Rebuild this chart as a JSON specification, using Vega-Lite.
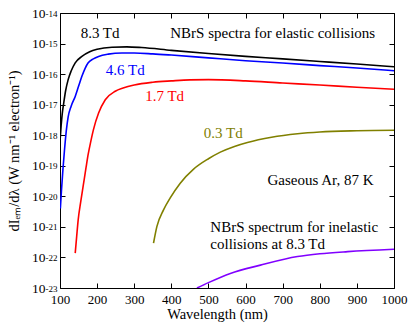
{
  "$schema": "https://vega.github.io/schema/vega-lite/v6.json",
  "autosize": {"type": "none"},
  "padding": {"left": 60, "top": 13, "right": 17, "bottom": 41},
  "width": 334,
  "height": 275,
  "background": "white",
  "config": {
    "view": {"stroke": "black", "strokeWidth": 1},
    "font": "Liberation Serif",
    "text": {"font": "Liberation Serif"},
    "axis": {"grid": false, "domain": false, "tickColor": "black", "tickWidth": 1, "labelColor": "black", "titleColor": "black", "labelFont": "Liberation Serif", "titleFont": "Liberation Serif", "titleFontWeight": "normal", "labelOverlap": false, "labelFlush": false}
  },
  "datasets": {
    "curves": [
      {"series": "8.3 Td", "wl": 100, "v": 6.3e-19},
      {"series": "8.3 Td", "wl": 103, "v": 2.0e-18},
      {"series": "8.3 Td", "wl": 106, "v": 5.0e-18},
      {"series": "8.3 Td", "wl": 110, "v": 1.12e-17},
      {"series": "8.3 Td", "wl": 115, "v": 2.8e-17},
      {"series": "8.3 Td", "wl": 122, "v": 6.6e-17},
      {"series": "8.3 Td", "wl": 130, "v": 1.26e-16},
      {"series": "8.3 Td", "wl": 141, "v": 2.34e-16},
      {"series": "8.3 Td", "wl": 159, "v": 3.8e-16},
      {"series": "8.3 Td", "wl": 180, "v": 5.4e-16},
      {"series": "8.3 Td", "wl": 200, "v": 6.5e-16},
      {"series": "8.3 Td", "wl": 240, "v": 7.6e-16},
      {"series": "8.3 Td", "wl": 280, "v": 7.8e-16},
      {"series": "8.3 Td", "wl": 320, "v": 7.4e-16},
      {"series": "8.3 Td", "wl": 400, "v": 6.0e-16},
      {"series": "8.3 Td", "wl": 500, "v": 4.7e-16},
      {"series": "8.3 Td", "wl": 600, "v": 3.8e-16},
      {"series": "8.3 Td", "wl": 700, "v": 3.16e-16},
      {"series": "8.3 Td", "wl": 800, "v": 2.6e-16},
      {"series": "8.3 Td", "wl": 900, "v": 2.14e-16},
      {"series": "8.3 Td", "wl": 1000, "v": 1.74e-16},
      {"series": "4.6 Td", "wl": 101, "v": 4.0e-21},
      {"series": "4.6 Td", "wl": 104, "v": 1.58e-20},
      {"series": "4.6 Td", "wl": 108, "v": 7.9e-20},
      {"series": "4.6 Td", "wl": 112, "v": 3.16e-19},
      {"series": "4.6 Td", "wl": 117, "v": 1.41e-18},
      {"series": "4.6 Td", "wl": 122, "v": 4.0e-18},
      {"series": "4.6 Td", "wl": 130, "v": 8.9e-18},
      {"series": "4.6 Td", "wl": 141, "v": 1.86e-17},
      {"series": "4.6 Td", "wl": 150, "v": 4.0e-17},
      {"series": "4.6 Td", "wl": 159, "v": 8.5e-17},
      {"series": "4.6 Td", "wl": 168, "v": 1.58e-16},
      {"series": "4.6 Td", "wl": 176, "v": 2.34e-16},
      {"series": "4.6 Td", "wl": 190, "v": 3.16e-16},
      {"series": "4.6 Td", "wl": 204, "v": 3.8e-16},
      {"series": "4.6 Td", "wl": 230, "v": 4.5e-16},
      {"series": "4.6 Td", "wl": 267, "v": 4.9e-16},
      {"series": "4.6 Td", "wl": 300, "v": 4.9e-16},
      {"series": "4.6 Td", "wl": 350, "v": 4.6e-16},
      {"series": "4.6 Td", "wl": 400, "v": 4.2e-16},
      {"series": "4.6 Td", "wl": 500, "v": 3.4e-16},
      {"series": "4.6 Td", "wl": 600, "v": 2.75e-16},
      {"series": "4.6 Td", "wl": 700, "v": 2.3e-16},
      {"series": "4.6 Td", "wl": 800, "v": 1.9e-16},
      {"series": "4.6 Td", "wl": 900, "v": 1.58e-16},
      {"series": "4.6 Td", "wl": 1000, "v": 1.29e-16},
      {"series": "1.7 Td", "wl": 141, "v": 1.38e-22},
      {"series": "1.7 Td", "wl": 145, "v": 5.0e-22},
      {"series": "1.7 Td", "wl": 149, "v": 1.7e-21},
      {"series": "1.7 Td", "wl": 156, "v": 6.8e-21},
      {"series": "1.7 Td", "wl": 163, "v": 2.4e-20},
      {"series": "1.7 Td", "wl": 170, "v": 8.5e-20},
      {"series": "1.7 Td", "wl": 176, "v": 2.4e-19},
      {"series": "1.7 Td", "wl": 183, "v": 6.3e-19},
      {"series": "1.7 Td", "wl": 190, "v": 1.5e-18},
      {"series": "1.7 Td", "wl": 204, "v": 5.3e-18},
      {"series": "1.7 Td", "wl": 222, "v": 1.45e-17},
      {"series": "1.7 Td", "wl": 249, "v": 2.75e-17},
      {"series": "1.7 Td", "wl": 270, "v": 3.5e-17},
      {"series": "1.7 Td", "wl": 300, "v": 4.4e-17},
      {"series": "1.7 Td", "wl": 350, "v": 5.4e-17},
      {"series": "1.7 Td", "wl": 400, "v": 6.0e-17},
      {"series": "1.7 Td", "wl": 450, "v": 6.5e-17},
      {"series": "1.7 Td", "wl": 500, "v": 6.6e-17},
      {"series": "1.7 Td", "wl": 600, "v": 6.0e-17},
      {"series": "1.7 Td", "wl": 700, "v": 5.1e-17},
      {"series": "1.7 Td", "wl": 800, "v": 4.4e-17},
      {"series": "1.7 Td", "wl": 900, "v": 3.7e-17},
      {"series": "1.7 Td", "wl": 1000, "v": 3.2e-17},
      {"series": "0.3 Td", "wl": 352, "v": 2.95e-22},
      {"series": "0.3 Td", "wl": 361, "v": 1.02e-21},
      {"series": "0.3 Td", "wl": 379, "v": 3.6e-21},
      {"series": "0.3 Td", "wl": 397, "v": 8.9e-21},
      {"series": "0.3 Td", "wl": 424, "v": 2.7e-20},
      {"series": "0.3 Td", "wl": 460, "v": 7.8e-20},
      {"series": "0.3 Td", "wl": 500, "v": 1.7e-19},
      {"series": "0.3 Td", "wl": 532, "v": 2.8e-19},
      {"series": "0.3 Td", "wl": 570, "v": 4.3e-19},
      {"series": "0.3 Td", "wl": 605, "v": 5.8e-19},
      {"series": "0.3 Td", "wl": 670, "v": 8.6e-19},
      {"series": "0.3 Td", "wl": 740, "v": 1.12e-18},
      {"series": "0.3 Td", "wl": 800, "v": 1.28e-18},
      {"series": "0.3 Td", "wl": 900, "v": 1.4e-18},
      {"series": "0.3 Td", "wl": 1000, "v": 1.45e-18},
      {"series": "inelastic", "wl": 469, "v": 1.0e-23},
      {"series": "inelastic", "wl": 500, "v": 1.5e-23},
      {"series": "inelastic", "wl": 559, "v": 3.0e-23},
      {"series": "inelastic", "wl": 640, "v": 5.6e-23},
      {"series": "inelastic", "wl": 740, "v": 1.07e-22},
      {"series": "inelastic", "wl": 800, "v": 1.32e-22},
      {"series": "inelastic", "wl": 875, "v": 1.55e-22},
      {"series": "inelastic", "wl": 1000, "v": 1.86e-22}
    ],
    "tdlabels": [
      {"series": "8.3 Td", "label": "8.3 Td", "wl": 208, "v": 2.3e-15},
      {"series": "4.6 Td", "label": "4.6 Td", "wl": 276, "v": 1.35e-16},
      {"series": "1.7 Td", "label": "1.7 Td", "wl": 382, "v": 1.87e-17},
      {"series": "0.3 Td", "label": "0.3 Td", "wl": 540, "v": 1.2e-18}
    ],
    "notes": [
      {"label": "NBrS spectra for elastic collisions", "wl": 397, "v": 2.2e-15},
      {"label": "Gaseous Ar, 87 K", "wl": 659, "v": 3.3e-20},
      {"label": "NBrS spectrum for inelastic", "wl": 505, "v": 1.0e-21},
      {"label": "collisions at 8.3 Td", "wl": 505, "v": 2.75e-22}
    ]
  },
  "resolve": {"axis": {"x": "independent", "y": "independent"}},
  "layer": [
    {
      "data": {"name": "curves"},
      "mark": {"type": "line", "strokeWidth": 1.6, "interpolate": "monotone", "clip": true},
      "encoding": {
        "x": {"field": "wl", "type": "quantitative",
          "scale": {"domain": [100, 1000], "nice": false, "zero": false},
          "axis": {"orient": "bottom", "values": [100, 200, 300, 400, 500, 600, 700, 800, 900, 1000], "format": "d", "offset": -5, "tickSize": 5, "labelPadding": 5, "labelFontSize": 13, "title": "Wavelength (nm)", "titleFontSize": 14.5, "titlePadding": 1, "titleX": 157}},
        "y": {"field": "v", "type": "quantitative",
          "scale": {"type": "log", "domain": [1e-23, 1e-14], "nice": false},
          "axis": {"orient": "left", "values": [1e-23, 1e-22, 1e-21, 1e-20, 1e-19, 1e-18, 1e-17, 1e-16, 1e-15, 1e-14], "labelExpr": "'10'", "offset": -5, "tickSize": 5, "labelPadding": 15, "labelFontSize": 13.5, "labelDy": 0, "title": "dIₑₘ/dλ (W nm⁻¹ electron⁻¹)", "titleFontSize": 14.5, "titlePadding": 10}},
        "color": {"field": "series", "type": "nominal",
          "scale": {"domain": ["8.3 Td", "4.6 Td", "1.7 Td", "0.3 Td", "inelastic"], "range": ["#000000", "#0000ff", "#ff0000", "#808000", "#8000ff"]},
          "legend": null},
        "detail": {"field": "series"}
      }
    },
    {
      "data": {"name": "tdlabels"},
      "mark": {"type": "text", "fontSize": 15, "align": "center", "baseline": "middle", "font": "Liberation Serif"},
      "encoding": {
        "x": {"field": "wl", "type": "quantitative",
          "axis": {"orient": "top", "values": [100, 200, 300, 400, 500, 600, 700, 800, 900, 1000], "offset": -5, "tickSize": 5, "labels": false, "title": null}},
        "y": {"field": "v", "type": "quantitative",
          "axis": {"orient": "left", "values": [1e-23, 1e-22, 1e-21, 1e-20, 1e-19, 1e-18, 1e-17, 1e-16, 1e-15, 1e-14], "labelExpr": "'' + round(log(datum.value) / LN10)", "ticks": false, "tickSize": 0, "labelPadding": 3, "labelFontSize": 9, "labelDy": -6, "title": null}},
        "text": {"field": "label"},
        "color": {"field": "series", "type": "nominal", "legend": null}
      }
    },
    {
      "data": {"name": "notes"},
      "mark": {"type": "text", "fontSize": 15, "align": "left", "baseline": "middle", "color": "black", "font": "Liberation Serif"},
      "encoding": {
        "x": {"field": "wl", "type": "quantitative", "axis": null},
        "y": {"field": "v", "type": "quantitative",
          "axis": {"orient": "right", "values": [1e-23, 1e-22, 1e-21, 1e-20, 1e-19, 1e-18, 1e-17, 1e-16, 1e-15, 1e-14], "offset": -5, "tickSize": 5, "labels": false, "title": null}},
        "text": {"field": "label"}
      }
    }
  ]
}
